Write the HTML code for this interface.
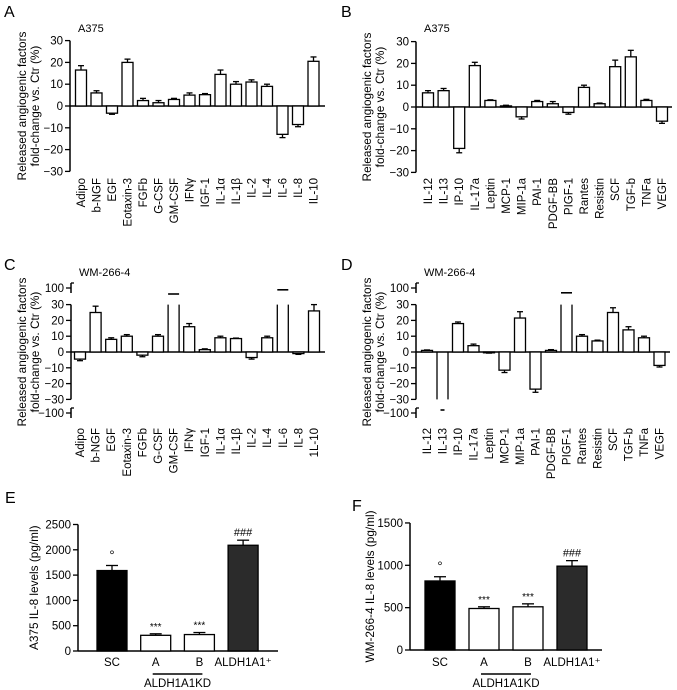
<!DOCTYPE html>
<html><head><meta charset="utf-8"><style>
html,body{margin:0;padding:0;background:#fff;}
svg{display:block;font-family:"Liberation Sans",sans-serif;}
</style></head><body>
<svg id="fig" width="677" height="690" viewBox="0 0 677 690" xmlns="http://www.w3.org/2000/svg"></svg>
<script>
// ---- data ----
const catsA = ["Adipo","b-NGF","EGF","Eotaxin-3","FGFb","G-CSF","GM-CSF","IFNγ","IGF-1","IL-1α","IL-1β","IL-2","IL-4","IL-6","IL-8","IL-10"];
const valsA = [16.5,6,-3.3,20,2.5,1.5,3,5,5.2,14.5,10,11,9,-13,-8.5,20.5];
const errsA = [2,1,0.5,1.5,1,1,0.5,1,0.5,2,1.2,1,1,1.5,1,2];
const catsB = ["IL-12","IL-13","IP-10","IL-17a","Leptin","MCP-1","MIP-1a","PAI-1","PDGF-BB","PIGF-1","Rantes","Resistin","SCF","TGF-b","TNFa","VEGF"];
const valsB = [6.5,7.5,-19,19,3,0.5,-4.5,2.5,1.5,-2.5,9,1.5,18.5,23,3,-6.5];
const errsB = [1,1,2,1.5,0.3,0.3,1,0.5,1,0.8,1,0.3,3,3,0.5,1];
const catsC = ["Adipo","b-NGF","EGF","Eotaxin-3","FGFb","G-CSF","GM-CSF","IFNγ","IGF-1","IL-1α","IL-1β","IL-2","IL-4","IL-6","IL-8","1L-10"];
const valsC = [-4.5,25,8,10,-2,10,90,16,1.5,9,8.5,-3.5,9,97,-1,26];
const errsC = [1,4,1,1,1,1,0,2,0.5,1,0.3,1,1,1,0.5,4];
const catsD = ["IL-12","IL-13","IP-10","IL-17a","Leptin","MCP-1","MIP-1a","PAI-1","PDGF-BB","PIGF-1","Rantes","Resistin","SCF","TGF-b","TNFa","VEGF"];
const valsD = [1,-95,18,4,-0.5,-11.5,21.5,-23.5,1,92,10,7,25,14,9,-8.5];
const errsD = [0.3,0,1,1,0.2,1.5,4,2,0.5,0,1,0.5,3,2,1,1];
const ticksAB = [30,20,10,0,-10,-20,-30];
const ticksCD = [100,30,20,10,0,-10,-20,-30,-100];
const catsE = ["SC","A","B","ALDH1A1⁺"];
const valsE = [1590,310,325,2090];
const errsE = [100,30,40,100];
const ticksE = [0,500,1000,1500,2000,2500];
const valsF = [815,490,510,990];
const errsF = [50,20,35,65];
const ticksF = [0,500,1000,1500];
const marksEF = ["°","***","***","###"];
const fillsEF = ["#000","#fff","#fff","#2b2b2b"];

const svg = document.getElementById('fig');
const NS = "http://www.w3.org/2000/svg";
function mk(tag, attrs, name, parent){
  const e = document.createElementNS(NS, tag);
  for (const k in attrs) e.setAttribute(k, attrs[k]);
  
  
  (parent||svg).appendChild(e);
  return e;
}
function txt(x,y,s,size,anchor,name,extra,parent){
  const t = mk('text', Object.assign({x:x,y:y,'font-size':size,'text-anchor':anchor||'start',fill:'#000'}, extra||{}), name, parent);
  t.textContent = s;
  return t;
}
function line(x1,y1,x2,y2,name,w,parent){
  return mk('line',{x1:x1,y1:y1,x2:x2,y2:y2,stroke:'#000','stroke-width':w||1.3},name,parent);
}

function panel(cfg){
  const g = mk('g',{},cfg.name);
  const y = v => cfg.y0 - v*cfg.k;
  const yUp = v => cfg.y100 + (100-v)*0.6;
  const yDn = v => cfg.yM100 - (100+v)*0.6;
  txt(cfg.lx, cfg.ly, cfg.letter, 16, 'start', 'panel-letter', {}, g);
  txt(cfg.ax+8, cfg.ty, cfg.title, 11, 'start', 'panel-title', {}, g);
  line(cfg.ax, y(30), cfg.ax, y(-30), 'y-axis', 1.5, g);
  const ticks = cfg.broken ? ticksCD : ticksAB;
  ticks.forEach(t=>{
    let py;
    if (cfg.broken && t===100) py = cfg.y100;
    else if (cfg.broken && t===-100) py = cfg.yM100;
    else py = y(t);
    line(cfg.ax-5, py, cfg.ax, py, 'y-tick', 1.3, g);
    txt(cfg.ax-7, py+4, t<0 ? '−'+(-t) : String(t), 11.5, 'end', 'y-tick-label', {}, g);
  });
  if (cfg.broken){
    line(cfg.ax, cfg.y100-5, cfg.ax, cfg.y100+5, 'y-axis-upper', 1.5, g);
    line(cfg.ax, cfg.y100-5, cfg.ax+3, cfg.y100-5, 'y-axis-break', 1.3, g);
    line(cfg.ax, cfg.yM100-5, cfg.ax, cfg.yM100+5, 'y-axis-lower', 1.5, g);
    line(cfg.ax, cfg.yM100-5, cfg.ax+3, cfg.yM100-5, 'y-axis-break', 1.3, g);
  }
  line(cfg.ax, y(0), cfg.xEnd, y(0), 'x-axis', 1.5, g);
  const cy = (y(30)+y(-30))/2;
  txt(cfg.tx1, cy, 'Released angiogenic factors', 11.8, 'middle', 'y-axis-title', {transform:`rotate(-90 ${cfg.tx1} ${cy})`}, g);
  txt(cfg.tx1+13, cy, 'fold-change vs. Ctr (%)', 11.8, 'middle', 'y-axis-title', {transform:`rotate(-90 ${cfg.tx1+13} ${cy})`}, g);
  const bw = 11;
  cfg.cats.forEach((c,i)=>{
    const cx = cfg.x0 + i*cfg.dx;
    const v = cfg.vals[i], e = cfg.errs[i];
    if (cfg.broken && v > 30){
      line(cx-bw/2, y(0), cx-bw/2, y(30), 'bar-'+c, 1.3, g);
      line(cx+bw/2, y(0), cx+bw/2, y(30), 'bar-'+c, 1.3, g);
      line(cx-bw/2, yUp(v), cx+bw/2, yUp(v), 'bar-top-'+c, 1.6, g);
    } else if (cfg.broken && v < -30){
      line(cx-bw/2, y(0), cx-bw/2, y(-30), 'bar-'+c, 1.3, g);
      line(cx+bw/2, y(0), cx+bw/2, y(-30), 'bar-'+c, 1.3, g);
      line(cx-2, yDn(v), cx+2, yDn(v), 'bar-bottom-'+c, 1.6, g);
    } else {
      const top = Math.min(y(v), y(0)), h = Math.abs(y(v)-y(0));
      const ey = v>=0 ? y(v+e) : y(v-e);
      line(cx, y(v), cx, ey, 'error-bar-'+c, 1.3, g);
      line(cx-3, ey, cx+3, ey, 'error-cap-'+c, 1.3, g);
      mk('rect',{x:cx-bw/2,y:top,width:bw,height:Math.max(h,0.8),fill:'#fff',stroke:'#000','stroke-width':1.3},'bar-'+c,g);
    }
    txt(cx+4, cfg.labY, c, 11.5, 'end', 'x-tick-label', {transform:`rotate(-90 ${cx+4} ${cfg.labY})`}, g);
  });
}
panel({name:'panel-a',letter:'A',lx:4,ly:17,title:'A375',ty:32,ax:70,y0:106,k:2.18,x0:81,dx:15.5,xEnd:325,tx1:26,labY:178,cats:catsA,vals:valsA,errs:errsA});
panel({name:'panel-b',letter:'B',lx:341,ly:17,title:'A375',ty:32,ax:416,y0:107,k:2.18,x0:428,dx:15.6,xEnd:672,tx1:371,labY:178,cats:catsB,vals:valsB,errs:errsB});
panel({name:'panel-c',letter:'C',broken:true,y100:288,yM100:413,lx:4,ly:270,title:'WM-266-4',ty:276,ax:71,y0:352,k:1.58,x0:80,dx:15.6,xEnd:325,tx1:26,labY:428,cats:catsC,vals:valsC,errs:errsC});
panel({name:'panel-d',letter:'D',broken:true,y100:288,yM100:413,lx:341,ly:270,title:'WM-266-4',ty:276,ax:416,y0:352,k:1.58,x0:427,dx:15.5,xEnd:670,tx1:371,labY:428,cats:catsD,vals:valsD,errs:errsD});

function il8(cfg){
  const g = mk('g',{},cfg.name);
  const y = v => cfg.y0 - v*cfg.k;
  txt(cfg.lx, cfg.ly, cfg.letter, 16, 'start', 'panel-letter', {}, g);
  line(cfg.ax, y(0), cfg.ax, y(cfg.ticks[cfg.ticks.length-1]), 'y-axis', 1.5, g);
  line(cfg.ax, y(0), cfg.xEnd, y(0), 'x-axis', 1.5, g);
  cfg.ticks.forEach(t=>{
    line(cfg.ax-5, y(t), cfg.ax, y(t), 'y-tick', 1.3, g);
    txt(cfg.ax-7, y(t)+4, String(t), 11.5, 'end', 'y-tick-label', {}, g);
  });
  const cy = (y(0)+y(cfg.ticks[cfg.ticks.length-1]))/2;
  txt(cfg.tx, cy, cfg.ytitle, 11.8, 'middle', 'y-axis-title', {transform:`rotate(-90 ${cfg.tx} ${cy})`}, g);
  catsE.forEach((c,i)=>{
    const cx = cfg.x0 + i*cfg.dx, v = cfg.vals[i], e = cfg.errs[i];
    line(cx, y(v), cx, y(v+e), 'error-bar-'+c, 1.3, g);
    line(cx-6, y(v+e), cx+6, y(v+e), 'error-cap-'+c, 1.3, g);
    mk('rect',{x:cx-15,y:y(v),width:30,height:y(0)-y(v),fill:fillsEF[i],stroke:'#000','stroke-width':1.3},'bar-'+c,g);
    const m = marksEF[i];
    txt(cx, y(v+e)-(m==='°'?6:4), m, m==='°'?13:(m==='###'?11:10), 'middle', 'significance-mark', {}, g);
    txt(cx, cfg.labY, c, 11.5, 'middle', 'x-tick-label', {}, g);
  });
  line(cfg.x0+cfg.dx-3, cfg.labY+8, cfg.x0+2*cfg.dx+3, cfg.labY+8, 'group-bracket', 1.5, g);
  txt(cfg.x0+1.5*cfg.dx, cfg.labY+21, 'ALDH1A1KD', 11.5, 'middle', 'group-label', {}, g);
}
il8({name:'panel-e',letter:'E',lx:5,ly:503,ax:78,y0:651,k:0.0506,ticks:ticksE,x0:112,dx:43.7,xEnd:278,tx:38,ytitle:'A375 IL-8 levels (pg/ml)',labY:666,vals:valsE,errs:errsE});
il8({name:'panel-f',letter:'F',lx:352,ly:511,ax:410,y0:650,k:0.0847,ticks:ticksF,x0:440,dx:44,xEnd:602,tx:374,ytitle:'WM-266-4 IL-8 levels (pg/ml)',labY:666,vals:valsF,errs:errsF});
</script>
</body></html>
